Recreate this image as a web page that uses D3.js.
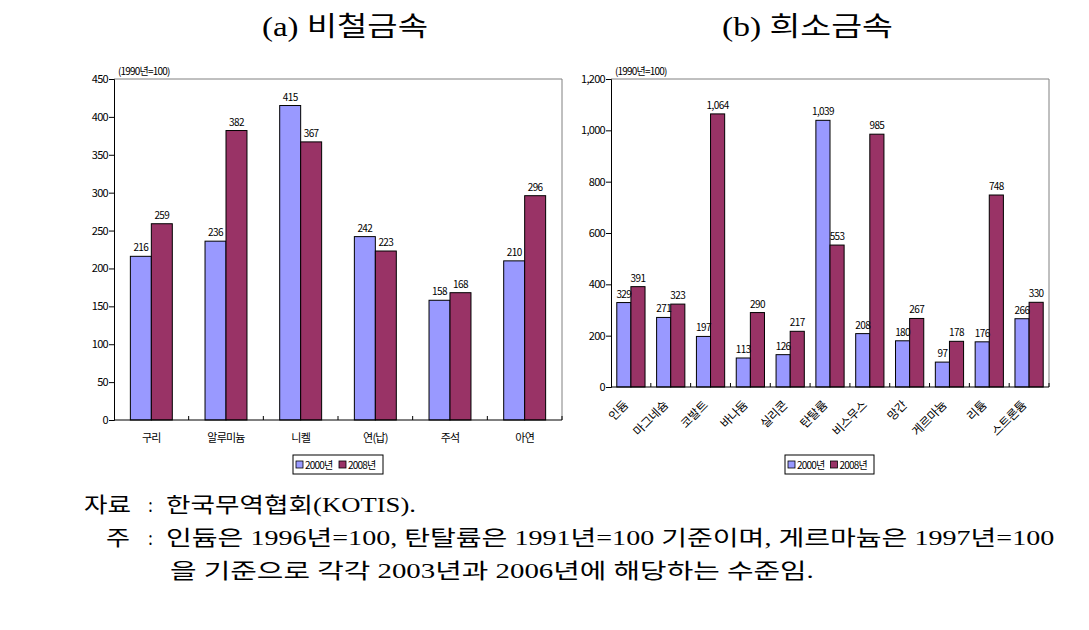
<!DOCTYPE html>
<html><head><meta charset="utf-8">
<script src="https://cdn.jsdelivr.net/npm/d3@7"></script>
<style>
body{margin:0;background:#fff;}
svg text{font-family:"Noto Sans CJK KR",sans-serif;}
</style></head>
<body><svg id="c" width="1089" height="630"></svg>
<script>
const series = ["2000년","2008년"];
const colors = ["#9999FF","#993366"];
const catsA = ["구리","알루미늄","니켈","연(납)","주석","아연"];
const valsA2000 = [216,236,415,242,158,210];
const valsA2008 = [259,382,367,223,168,296];
const ticksA = [0,50,100,150,200,250,300,350,400,450];
const catsB = ["인듐","마그네슘","코발트","바나듐","실리콘","탄탈륨","비스무스","망간","게르마늄","리튬","스트론튬"];
const valsB2000 = [329,271,197,113,126,1039,208,180,97,176,266];
const valsB2008 = [391,323,1064,290,217,553,985,267,178,748,330];
const ticksB = [0,200,400,600,800,1000,1200];
const unitLabel = "(1990년=100)";

const svg = d3.select("#c");
const fmt = d3.format(",");

function chart(cfg){
  const g = svg.append("g");
  const x = d3.scaleBand().domain(cfg.cats).range([cfg.x0,cfg.x1]).padding(0);
  const xs = d3.scaleBand().domain(series).range([0,x.bandwidth()]).paddingInner(0).paddingOuter(cfg.po);
  const y = d3.scaleLinear().domain([0,cfg.max]).range([cfg.yb,cfg.yt]);
  g.append("path").attr("d",`M${cfg.x0},${cfg.yt}H${cfg.x1}V${cfg.yb}`).attr("fill","none").attr("stroke","#808080").attr("stroke-width",1);
  const data = [];
  cfg.cats.forEach((c,i)=>{ data.push({c,s:series[0],v:cfg.v1[i],k:0}); data.push({c,s:series[1],v:cfg.v2[i],k:1}); });
  g.selectAll("rect.bar").data(data).enter().append("rect")
    .attr("x",d=>x(d.c)+xs(d.s)).attr("width",xs.bandwidth())
    .attr("y",d=>y(d.v)).attr("height",d=>y(0)-y(d.v))
    .attr("fill",d=>colors[d.k]).attr("stroke","#000").attr("stroke-width",1);
  g.selectAll("text.val").data(data).enter().append("text")
    .attr("x",d=>x(d.c)+xs(d.s)+xs.bandwidth()/2).attr("y",d=>y(d.v)-5)
    .attr("text-anchor","middle").attr("font-size",10).attr("letter-spacing","-0.6")
    .text(d=>fmt(d.v));
  const ya = d3.axisLeft(y).tickValues(cfg.ticks).tickSize(5).tickFormat(fmt);
  const yg = g.append("g").attr("transform",`translate(${cfg.x0},0)`).call(ya);
  yg.selectAll("path,line").attr("stroke","#000");
  yg.selectAll("text").attr("font-size",11).attr("letter-spacing","-0.7").attr("x",-6).attr("fill","#000");
  g.append("line").attr("x1",cfg.x0).attr("x2",cfg.x1).attr("y1",cfg.yb).attr("y2",cfg.yb).attr("stroke","#000");
  const bounds = cfg.cats.map(c=>x(c)).concat([cfg.x1]).slice(1);
  g.selectAll("line.xt").data(bounds).enter().append("line")
    .attr("x1",d=>d).attr("x2",d=>d).attr("y1",cfg.yb).attr("y2",cfg.yb-4).attr("stroke","#000");
  if(cfg.rotate){
    g.selectAll("text.xl").data(cfg.cats).enter().append("text")
      .attr("transform",d=>`translate(${x(d)+x.bandwidth()/2-2},${cfg.yb+19}) rotate(-45)`)
      .attr("text-anchor","end").attr("font-size",12).attr("letter-spacing","-0.3").text(d=>d);
  } else {
    g.selectAll("text.xl").data(cfg.cats).enter().append("text")
      .attr("x",d=>x(d)+x.bandwidth()/2).attr("y",cfg.yb+22)
      .attr("text-anchor","middle").attr("font-size",11).attr("letter-spacing","-0.8").text(d=>d);
  }
  g.append("text").attr("x",cfg.x0+4).attr("y",cfg.yt-4).attr("font-size",10).attr("letter-spacing","-0.8").text(unitLabel);
  const lg = g.append("g").attr("transform",`translate(${cfg.lx},${cfg.ly})`);
  lg.append("rect").attr("width",cfg.lw).attr("height",19).attr("fill","#fff").attr("stroke","#000");
  const itemW = (cfg.lw-4)/2;
  series.forEach((s,i)=>{
    lg.append("rect").attr("x",3+i*itemW).attr("y",6).attr("width",7).attr("height",7).attr("fill",colors[i]).attr("stroke","#000").attr("stroke-width",0.8);
    lg.append("text").attr("x",12+i*itemW).attr("y",14).attr("font-size",10).attr("letter-spacing","-0.8").text(s);
  });
}

chart({cats:catsA,v1:valsA2000,v2:valsA2008,ticks:ticksA,max:450,x0:114,x1:562,yt:79,yb:420,po:0.78,rotate:false,lx:293,ly:455,lw:90});
chart({cats:catsB,v1:valsB2000,v2:valsB2008,ticks:ticksB,max:1200,x0:611,x1:1049,yt:79,yb:387,po:0.41,rotate:true,lx:785,ly:455,lw:89});

const serif = '"Liberation Serif","Noto Sans CJK KR",serif';
function fit(x0,x1,y,t,fs){
  const e = svg.append("text").attr("x",0).attr("y",0).attr("font-size",fs).style("font-family",serif).text(t);
  const w = e.node().getComputedTextLength();
  const s = (x1-x0)/w;
  e.attr("transform",`translate(${x0},${y}) scale(${s},1)`);
  return e;
}
fit(262,428,36,"(a)  비철금속",27);
fit(722,893,36,"(b)  희소금속",27);

fit(84,131,512,"자료",21);
fit(148,153,512,":",21);
fit(166,416,512,"한국무역협회(KOTIS).",21);
fit(106,130,545,"주",21);
fit(148,153,545,":",21);
fit(166,1055,545,"인듐은  1996년=100,  탄탈륨은  1991년=100   기준이며,  게르마늄은  1997년=100",21);
fit(170,814,578,"을  기준으로  각각  2003년과  2006년에  해당하는  수준임.",21);
</script></body></html>
